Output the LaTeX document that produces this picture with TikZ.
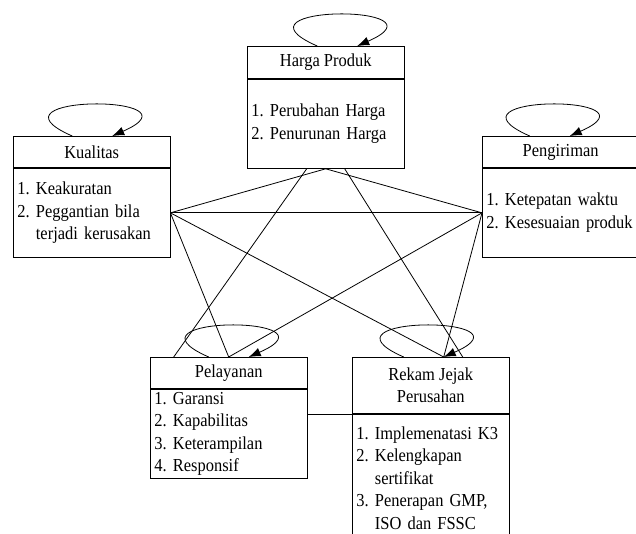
\documentclass[tikz,border=0pt]{standalone}
\usepackage{fontspec}
\setmainfont{Liberation Serif}[FakeStretch=0.9]
\usepackage{tikz}
\usetikzlibrary{positioning,arrows.meta}
\frenchspacing

\begin{document}
\begin{tikzpicture}[x=1pt,y=1pt,
	font=\fontsize{18.3}{22.5}\selectfont,
	head/.style={rectangle,draw,line width=0.9pt,minimum width=156.5pt,inner sep=0pt,anchor=north west,align=center},
	body/.style={rectangle,draw,line width=0.9pt,text width=148.5pt,inner xsep=4pt,inner ysep=0pt,minimum height=89pt,align=left},
	link/.style={line width=0.8pt},
	selfloop/.style={line width=0.8pt,-{Latex[length=12pt,width=9pt]}},
	]
	\useasboundingbox (0,0) rectangle (636,-534);
	\node[head,minimum height=32pt] (hp) at (247,-46) {Harga Produk};
	\node[body,below=0pt of hp] (hpb) {1. Perubahan Harga\\2. Penurunan Harga};
	\node[head,minimum height=31pt] (k) at (13,-136) {Kualitas};
	\node[body,below=0pt of k] (kb) {1. Keakuratan\\2. Peggantian bila\\\phantom{2. }terjadi kerusakan};
	\node[head,minimum height=31pt] (pg) at (482,-136) {Pengiriman};
	\node[body,below=0pt of pg] (pgb) {1. Ketepatan waktu\\2. Kesesuaian produk};
	\node[head,minimum height=31pt] (pl) at (150,-357) {Pelayanan};
	\node[body,below=0pt of pl] (plb) {1. Garansi\\2. Kapabilitas\\3. Keterampilan\\4. Responsif};
	\node[head,minimum height=56pt] (rj) at (352,-357) {Rekam Jejak\\Perusahan};
	\node[body,below=0pt of rj,minimum height=0pt,inner ysep=12pt] (rjb) {1. Implemenatasi K3\\2. Kelengkapan\\\phantom{2. }sertifikat\\3. Penerapan GMP,\\\phantom{3. }ISO dan FSSC};
	\foreach \n/\s in {hp/-8.5,k/-19.5,pg/-31,pl/-20,rj/-27}
		\draw[selfloop] ([xshift=\s]\n.north) .. controls +(-96,42) and +(96,42) .. ([xshift=\s+40]\n.north);
	\draw[link] (hpb.south) -- (kb.east);
	\draw[link] (hpb.south) -- (pgb.west);
	\draw[link] (kb.east) -- (pgb.west);
	\draw[link] ([xshift=-19pt]hpb.south) -- ([xshift=-55pt]pl.north);
	\draw[link] ([xshift=19pt]hpb.south) -- ([xshift=32pt]rj.north);
	\draw[link] (kb.east) -- (pl.north);
	\draw[link] (kb.east) -- ([xshift=13pt]rj.north);
	\draw[link] (pgb.west) -- (pl.north);
	\draw[link] (pgb.west) -- ([xshift=13pt]rj.north);
	\draw[link] (rj.south west) -- (rj.south west -| plb.east);
\end{tikzpicture}
\end{document}
